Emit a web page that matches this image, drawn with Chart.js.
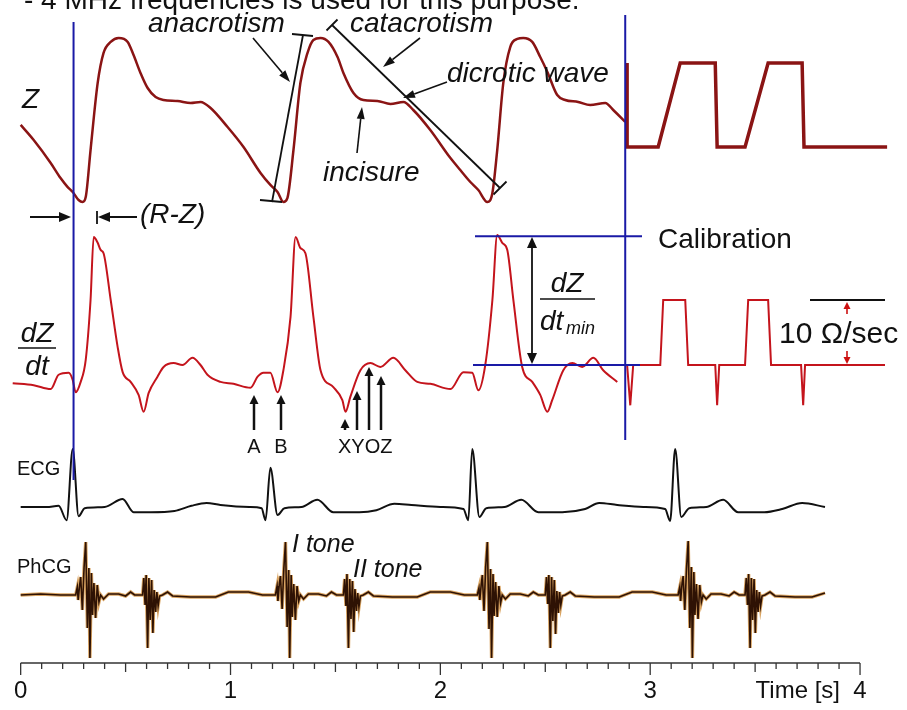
<!DOCTYPE html>
<html><head><meta charset="utf-8">
<script src="https://cdn.jsdelivr.net/npm/chart.js@4.4.1/dist/chart.umd.min.js"></script>
<style>html,body{margin:0;padding:0;background:#fff;overflow:hidden}canvas{display:block}</style>
</head><body>
<canvas id="c" width="907" height="710"></canvas>
<script>
// ---------- data (time in s) ----------
const xTicks = [0, 1, 2, 3, 4];
const xTickLabels = ['0', '1', '2', '3', '4'];

// Z (impedance pulse, relative units: min = 0, systolic peak = 100)
const zTime = [0.000,0.062,0.143,0.190,0.224,0.248,0.276,0.295,0.310,0.333,0.367,0.395,0.429,0.467,0.510,0.538,0.571,0.605,0.643,0.681,0.748,0.810,0.857,0.905,0.986,1.062,1.143,1.190,1.224,1.252,1.271,1.300,1.333,1.367,1.395,1.429,1.467,1.510,1.538,1.586,1.633,1.700,1.762,1.824,1.871,1.952,2.048,2.095,2.143,2.181,2.224,2.248,2.271,2.300,2.333,2.367,2.395,2.438,2.476,2.510,2.557,2.595,2.657,2.714,2.786,2.824,2.881];
const zValue = [47.0,37.8,23.8,14.6,9.1,6.1,1.2,0,3.0,31.7,72.6,90.9,97.6,100.0,97.6,89.6,78.7,69.5,64.0,62.2,61.6,60.4,61.0,57.3,45.7,33.5,17.7,10.4,6.1,0,2.4,31.7,72.6,90.9,98.8,100.0,97.6,88.4,78.7,66.5,62.2,61.6,59.8,61.0,56.1,43.9,26.8,19.5,12.2,7.3,0,5.5,31.7,72.6,94.5,99.4,100.0,97.6,88.4,79.3,65.2,62.2,61.0,59.1,60.4,56.1,48.8];
// Z calibration pulses
const zCalTime = [2.890,2.890,3.038,3.143,3.310,3.319,3.452,3.562,3.724,3.733,4.129];
const zCalValue = [84.8,33.5,33.5,84.8,84.8,33.5,33.5,84.8,84.8,33.5,33.5];

// dZ/dt (Ohm/s)
const dzTime = [-0.038,0.062,0.143,0.181,0.229,0.248,0.262,0.286,0.310,0.333,0.348,0.367,0.381,0.395,0.429,0.462,0.486,0.524,0.562,0.586,0.610,0.652,0.681,0.729,0.771,0.819,0.857,0.890,0.952,1.014,1.095,1.129,1.157,1.190,1.224,1.252,1.286,1.310,1.333,1.357,1.395,1.429,1.490,1.533,1.548,1.571,1.619,1.667,1.714,1.776,1.833,1.890,1.952,2.048,2.110,2.152,2.181,2.214,2.248,2.271,2.295,2.319,2.348,2.390,2.438,2.476,2.510,2.533,2.586,2.629,2.676,2.729,2.776,2.843];
const dzValue = [-2.8,-3.1,-3.7,-1.5,-1.2,-2.3,-4.2,-2.6,0.8,10.0,19.7,18.8,17.7,17.2,10.0,2.8,-1.1,-2.6,-4.6,-7.2,-4.3,-1.8,-0.3,0.3,0,1.1,0,-1.5,-2.6,-2.9,-3.5,-1.8,-1.2,-1.2,-4.2,-0.8,7.4,19.7,18.0,17.2,7.4,-0.8,-3.4,-5.4,-7.2,-4.9,-0.8,0.3,-0.3,1.1,-0.8,-2.6,-2.9,-3.7,-1.1,-1.2,-3.9,0,10.0,20.0,18.8,17.7,10.0,-0.3,-2.6,-4.6,-7.2,-5.4,-0.8,0.3,-0.3,1.1,-0.8,-2.6];
// dZ/dt calibration (10 Ohm/s steps)
const dzCalTime = [2.890,2.905,2.919,3.048,3.062,3.167,3.181,3.310,3.319,3.329,3.452,3.467,3.562,3.576,3.719,3.729,3.738,4.119];
const dzCalValue = [0,-6.2,0,0,10,10,0,0,-6.2,0,0,10,10,0,0,-6.2,0,0];

// ECG (mV)
const ecgTime = [0.000,0.124,0.181,0.219,0.248,0.276,0.305,0.400,0.486,0.538,0.619,0.733,0.814,0.886,0.952,1.090,1.148,1.167,1.190,1.224,1.257,1.338,1.414,1.490,1.614,1.695,1.781,1.862,2.000,2.110,2.133,2.152,2.186,2.219,2.305,2.386,2.467,2.581,2.690,2.757,2.843,2.967,3.071,3.095,3.119,3.148,3.186,3.267,3.348,3.419,3.543,3.629,3.724,3.833];
const ecgValue = [0,0,0.03,-0.33,1.45,-0.23,-0.03,0,0.2,-0.13,-0.13,-0.1,0.03,0.1,0.05,0,-0.03,-0.33,0.98,-0.2,-0.03,0,0.18,-0.13,-0.13,-0.08,0.08,0.05,0,-0.05,-0.33,1.45,-0.25,-0.03,0,0.18,-0.13,-0.13,-0.05,0.1,0.05,0,-0.05,-0.35,1.45,-0.25,-0.03,0,0.18,-0.13,-0.13,-0.05,0.1,0];

// PhCG (relative units)
const phcgTime = [
0.000,0.095,0.190,
0.262,0.270,0.274,0.281,0.286,0.294,0.302,0.310,0.318,0.325,0.330,0.337,0.342,0.349,0.357,0.365,0.373,0.381,
0.395,0.419,0.467,0.500,0.524,0.543,
0.581,0.587,0.593,0.598,0.605,0.611,0.617,0.624,0.630,0.636,0.643,0.649,0.655,0.662,0.676,
0.700,0.724,0.810,0.929,0.990,1.086,1.152,
1.214,1.222,1.226,1.233,1.238,1.246,1.254,1.262,1.270,1.277,1.282,1.289,1.294,1.301,1.309,1.317,1.325,1.333,
1.348,1.371,1.419,1.457,1.481,1.505,
1.538,1.544,1.550,1.555,1.562,1.568,1.574,1.581,1.587,1.593,1.600,1.606,1.612,1.619,1.633,
1.657,1.681,1.771,1.890,1.952,2.048,2.114,
2.176,2.184,2.188,2.195,2.200,2.208,2.216,2.224,2.232,2.239,2.244,2.251,2.256,2.263,2.271,2.279,2.287,2.295,
2.310,2.333,2.381,2.419,2.443,2.467,
2.500,2.506,2.512,2.517,2.524,2.530,2.536,2.543,2.549,2.555,2.562,2.568,2.574,2.581,2.595,
2.619,2.643,2.733,2.852,2.914,3.010,3.076,
3.133,3.141,3.145,3.152,3.157,3.165,3.173,3.181,3.189,3.196,3.201,3.208,3.213,3.220,3.228,3.236,3.244,3.252,
3.267,3.290,3.338,3.376,3.400,3.424,
3.452,3.458,3.464,3.469,3.476,3.482,3.488,3.495,3.501,3.507,3.514,3.520,3.526,3.533,3.547,
3.571,3.595,3.690,3.771,3.833];
const phcgValue = [
0,0.1,0,
0,0.8,-0.5,1.0,1.8,-1.5,2.7,5.3,-3.3,2.7,-6.3,2.2,-2.0,1.2,-2.3,1.0,-0.7,0,
-0.4,0.1,0.1,-0.1,0.3,0,
0,1.7,-1.0,2.0,-5.3,1.7,-2.5,1.5,-3.8,0.5,-1.7,0.3,-1.1,-0.1,0,
0.3,-0.1,-0.2,-0.2,0.3,0.3,0,
0,0.9,-0.6,1.2,1.9,-1.4,2.6,5.3,-3.2,2.5,-6.3,2.0,-2.2,1.1,-2.5,0.9,-0.6,0,
-0.4,0.1,0.1,-0.1,0.3,0,
0,1.6,-1.1,2.1,-5.3,1.6,-2.4,1.4,-3.7,0.6,-1.6,0.2,-1.2,-0.1,0,
0.3,-0.1,-0.2,-0.2,0.3,0.3,0,
0,0.7,-0.5,1.1,2.0,-1.6,2.8,5.3,-3.4,2.6,-6.3,2.1,-2.1,1.3,-2.2,0.9,-0.8,0,
-0.4,0.1,0.1,-0.1,0.3,0,
0,1.8,-0.9,2.0,-5.3,1.8,-2.6,1.5,-3.9,0.4,-1.8,0.3,-1.0,-0.1,0,
0.3,-0.1,-0.2,-0.2,0.3,0.3,0,
0,0.8,-0.6,1.2,1.9,-1.5,2.6,5.4,-3.3,2.8,-6.3,2.3,-2.0,1.1,-2.4,1.0,-0.7,0,
-0.4,0.1,0.1,-0.1,0.3,0,
0,1.7,-1.0,2.1,-5.3,1.7,-2.5,1.6,-3.8,0.5,-1.7,0.3,-1.1,-0.1,0,
0.3,-0.1,-0.2,-0.2,0.2];

// ---------- helpers ----------
const pts = (t, v) => t.map((x, i) => ({x: x, y: v[i]}));
const FONT = '"Liberation Sans", Arial, Helvetica, sans-serif';
const BLUE = '#1a1aa6';

function arrow(ctx, x1, y1, x2, y2, hl, hw, color, lw) {
  ctx.strokeStyle = color; ctx.fillStyle = color; ctx.lineWidth = lw;
  const a = Math.atan2(y2 - y1, x2 - x1);
  const bx = x2 - hl * Math.cos(a), by = y2 - hl * Math.sin(a);
  ctx.beginPath(); ctx.moveTo(x1, y1); ctx.lineTo(bx, by); ctx.stroke();
  ctx.beginPath(); ctx.moveTo(x2, y2);
  ctx.lineTo(bx + hw * Math.sin(a), by - hw * Math.cos(a));
  ctx.lineTo(bx - hw * Math.sin(a), by + hw * Math.cos(a));
  ctx.closePath(); ctx.fill();
}
function line(ctx, x1, y1, x2, y2, color, lw) {
  ctx.strokeStyle = color; ctx.lineWidth = lw;
  ctx.beginPath(); ctx.moveTo(x1, y1); ctx.lineTo(x2, y2); ctx.stroke();
}
function text(ctx, s, x, y, size, style, align) {
  ctx.font = (style || '') + ' ' + size + 'px ' + FONT;
  ctx.fillStyle = '#111'; ctx.textAlign = align || 'left'; ctx.textBaseline = 'alphabetic';
  ctx.fillText(s, x, y);
}

const TICK_PAD = 14, TICK_FONT = 24;

const annotations = {
  id: 'annotations',
  afterDatasetsDraw(chart) {
    const ctx = chart.ctx, xs = chart.scales.x, yD = chart.scales.yD;
    const ay = chart.chartArea.bottom;
    ctx.save();
    ctx.lineCap = 'butt';
    // time axis line and tick marks
    line(ctx, xs.getPixelForValue(0), ay, xs.getPixelForValue(4), ay, '#333', 1.5);
    for (let i = 0; i <= 40; i++) {
      const px = xs.getPixelForValue(i / 10);
      const len = i % 10 === 0 ? 12 : (i % 5 === 0 ? 9 : 6);
      line(ctx, px, ay, px, ay + len, '#333', 1.3);
    }
    ctx.font = TICK_FONT + 'px ' + FONT; ctx.fillStyle = '#111';
    ctx.textAlign = 'right'; ctx.textBaseline = 'middle';
    ctx.fillText('Time [s]', xs.getPixelForValue(4) - 20, ay + TICK_PAD + TICK_FONT * 0.6);

    // blue marker lines
    const xR = xs.getPixelForValue(0.252), xC = xs.getPixelForValue(2.881);
    line(ctx, xR, 22, xR, 480, BLUE, 2);
    line(ctx, xC, 15, xC, 440, BLUE, 2);
    const yTop = yD.getPixelForValue(19.8), yBase = yD.getPixelForValue(0);
    line(ctx, 475, yTop, 642, yTop, BLUE, 2);
    line(ctx, 473, yBase, 640, yBase, BLUE, 2);

    // cut-off caption at top
    text(ctx, '- 4 MHz frequencies is used for this purpose.', 24, 9, 28, '');

    // Z annotations
    text(ctx, 'Z', 22, 108, 28, 'italic');
    text(ctx, 'anacrotism', 148, 32, 28, 'italic');
    line(ctx, 303, 35, 272, 202, '#111', 1.8);
    line(ctx, 292, 34, 313, 36, '#111', 1.8);
    line(ctx, 260, 200, 282, 202, '#111', 1.8);
    arrow(ctx, 253, 38, 290, 82, 12, 4, '#111', 1.6);
    text(ctx, 'catacrotism', 350, 32, 28, 'italic');
    line(ctx, 332, 25, 500, 188, '#111', 1.8);
    line(ctx, 326.5, 30.5, 337.5, 19.5, '#111', 1.8);
    line(ctx, 493.5, 194.5, 506.5, 181.5, '#111', 1.8);
    arrow(ctx, 420, 38, 383, 67, 12, 4, '#111', 1.6);
    text(ctx, 'dicrotic wave', 447, 82, 28, 'italic');
    arrow(ctx, 447, 82, 403, 98, 12, 4, '#111', 1.6);
    text(ctx, 'incisure', 323, 181, 28, 'italic');
    arrow(ctx, 357, 153, 362, 107, 12, 4, '#111', 1.6);

    // (R-Z)
    text(ctx, '(R-Z)', 140, 223, 28, 'italic');
    arrow(ctx, 30, 217, 71, 217, 12, 5, '#111', 2);
    arrow(ctx, 137, 217, 98, 217, 12, 5, '#111', 2);
    line(ctx, 97, 211, 97, 224, '#111', 1.8);

    // dZ/dt label
    text(ctx, 'dZ', 37, 342, 28, 'italic', 'center');
    line(ctx, 18, 348, 56, 348, '#111', 1.4);
    text(ctx, 'dt', 37, 375, 28, 'italic', 'center');

    // dZ/dt min
    arrow(ctx, 532, 300, 532, 237, 11, 5, '#111', 1.8);
    arrow(ctx, 532, 300, 532, 364, 11, 5, '#111', 1.8);
    text(ctx, 'dZ', 567, 292, 28, 'italic', 'center');
    line(ctx, 540, 299, 595, 299, '#111', 1.4);
    text(ctx, 'dt', 540, 330, 28, 'italic');
    text(ctx, 'min', 566, 334, 18, 'italic');

    // Calibration
    text(ctx, 'Calibration', 658, 248, 28, '');
    line(ctx, 810, 300, 885, 300, '#111', 2);
    arrow(ctx, 847, 314, 847, 302, 7, 3.5, '#cc1010', 1.6);
    arrow(ctx, 847, 351, 847, 364, 7, 3.5, '#cc1010', 1.6);
    text(ctx, '10 \u03A9/sec', 779, 343, 30, '');

    // characteristic points
    const pts2 = [[254, 395], [281, 395], [345, 419], [357, 391], [369, 367], [381, 376]];
    pts2.forEach(p => arrow(ctx, p[0], 430, p[0], p[1], 9, 4.5, '#111', 2.5));
    text(ctx, 'A', 254, 453, 20, '', 'center');
    text(ctx, 'B', 281, 453, 20, '', 'center');
    text(ctx, 'XYOZ', 338, 453, 20, '');

    // trace labels
    text(ctx, 'ECG', 17, 475, 20, '');
    text(ctx, 'PhCG', 17, 573, 20, '');
    text(ctx, 'I tone', 292, 552, 25, 'italic');
    text(ctx, 'II tone', 353, 577, 25, 'italic');
    ctx.restore();
  }
};

new Chart(document.getElementById('c'), {
  type: 'line',
  data: {
    datasets: [
      {label: 'Z', data: pts(zTime, zValue), yAxisID: 'yZ', borderColor: '#8a1414', borderWidth: 2.5, cubicInterpolationMode: 'monotone', pointRadius: 0, order: 1},
      {label: 'Z calibration', data: pts(zCalTime, zCalValue), yAxisID: 'yZ', borderColor: '#8a1414', borderWidth: 3.5, tension: 0, pointRadius: 0, order: 1},
      {label: 'dZ/dt', data: pts(dzTime, dzValue), yAxisID: 'yD', borderColor: '#c4141c', borderWidth: 2, cubicInterpolationMode: 'monotone', pointRadius: 0, order: 1},
      {label: 'dZ/dt calibration', data: pts(dzCalTime, dzCalValue), yAxisID: 'yD', borderColor: '#c4141c', borderWidth: 2, tension: 0, pointRadius: 0, order: 1},
      {label: 'ECG', data: pts(ecgTime, ecgValue), yAxisID: 'yE', borderColor: '#111', borderWidth: 2, cubicInterpolationMode: 'monotone', pointRadius: 0, order: 1},
      {label: 'PhCG', data: pts(phcgTime, phcgValue), yAxisID: 'yP', borderColor: '#2e1204', borderWidth: 1.6, tension: 0, pointRadius: 0, order: 1},
      {label: 'PhCG halo', data: pts(phcgTime, phcgValue), yAxisID: 'yP', borderColor: '#d9a462', borderWidth: 3.4, tension: 0, pointRadius: 0, order: 2}
    ]
  },
  options: {
    responsive: false, animation: false, events: [],
    layout: {padding: 0},
    plugins: {legend: {display: false}, tooltip: {enabled: false}},
    scales: {
      x: {
        type: 'linear', position: 'bottom', min: -0.0952, max: 4.2238,
        grid: {display: false, drawTicks: false}, border: {display: false},
        afterBuildTicks: s => { s.ticks = xTicks.map(v => ({value: v})); },
        afterFit: s => { s.height = 47; },
        ticks: {padding: TICK_PAD, color: '#111', font: {family: FONT, size: TICK_FONT},
                callback: (v) => xTickLabels[xTicks.indexOf(v)]}
      },
      yZ: {display: false, min: -281.1, max: 123.17},
      yD: {display: false, min: -45.846, max: 56.154},
      yE: {display: false, min: -3.9, max: 12.675},
      yP: {display: false, min: -6.8, max: 59.5}
    }
  },
  plugins: [annotations]
});
</script>
</body></html>
